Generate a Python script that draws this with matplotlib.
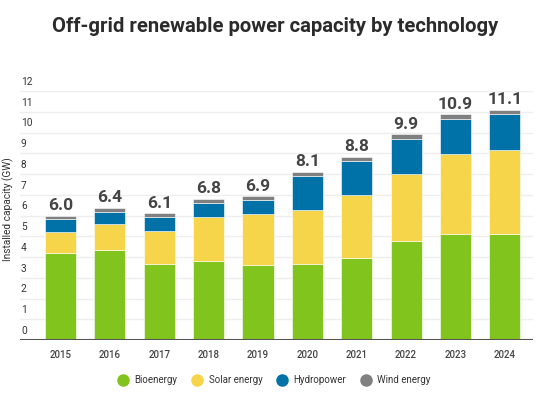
import numpy as np
from matplotlib import pyplot as plt
from matplotlib.lines import Line2D

plt.rcParams['font.family'] = ['Roboto', 'DejaVu Sans']

years = ['2015', '2016', '2017', '2018', '2019', '2020', '2021', '2022', '2023', '2024']
bioenergy = [4.20, 4.32, 3.68, 3.82, 3.63, 3.68, 3.97, 4.77, 5.11, 5.11]
solar = [1.00, 1.29, 1.57, 2.12, 2.43, 2.57, 3.02, 3.25, 3.87, 4.06]
hydro = [0.62, 0.57, 0.68, 0.68, 0.70, 1.65, 1.65, 1.68, 1.69, 1.74]
wind = [0.16, 0.20, 0.17, 0.18, 0.18, 0.20, 0.18, 0.21, 0.21, 0.19]
totals = ['6.0', '6.4', '6.1', '6.8', '6.9', '8.1', '8.8', '9.9', '10.9', '11.1']

series = [('Bioenergy', bioenergy, '#82c41e'),
          ('Solar energy', solar, '#f6d54a'),
          ('Hydropower', hydro, '#0072a8'),
          ('Wind energy', wind, '#808080')]

fig = plt.figure(figsize=(5.4, 3.99), dpi=100)
ax = fig.add_axes([20 / 540, 59 / 399, 513 / 540, 249 / 399])

x = np.arange(len(years))
bottom = np.zeros(len(years))
for name, vals, color in series:
    ax.bar(x, vals, 0.63, bottom=bottom, color=color, edgecolor='white',
           linewidth=0.4, zorder=2)
    bottom += np.array(vals)

for xi, top, lab in zip(x, bottom, totals):
    ax.text(xi, top + 0.12, lab, ha='center', va='bottom', fontsize=12.5,
            fontweight='bold', color='#444444', clip_on=False)

ax.set_xlim(-0.82, 9.57)
ax.set_ylim(0, 12)
for v in range(0, 13):
    if v > 0:
        ax.axhline(v, color='#eeeeee', linewidth=1, zorder=0)
    ax.text(-0.8, v + 0.2, str(v), ha='left', va='bottom', fontsize=7.3,
            color='#333333')
ax.axhline(0, color='#555555', linewidth=1.5, zorder=3)

ax.set_yticks([])
ax.set_xticks(x)
ax.set_xticklabels(years, fontsize=7, fontweight='medium', color='#444444')
ax.tick_params(axis='x', length=0, pad=7)
for s in ax.spines.values():
    s.set_visible(False)

fig.text(8 / 540, 1 - 209 / 399, 'Installed capacity (GW)', rotation=90, ha='center',
         va='center', fontsize=7.3, color='#333333')
fig.text(275 / 540, 1 - 27 / 399, 'Off-grid renewable power capacity by technology',
         ha='center', va='center', fontsize=14.6, fontweight='bold', color='#2b2b2b')

handles = [Line2D([], [], marker='o', linestyle='', markersize=8,
                  markerfacecolor=c, markeredgecolor=c, label=n)
           for n, _, c in series]
fig.legend(handles=handles, loc='center', bbox_to_anchor=(272 / 540, 1 - 380 / 399),
           ncol=4, frameon=False, fontsize=7, handletextpad=0.2,
           columnspacing=1.0, labelcolor='#333333')

fig.savefig('out.png', dpi=100)
